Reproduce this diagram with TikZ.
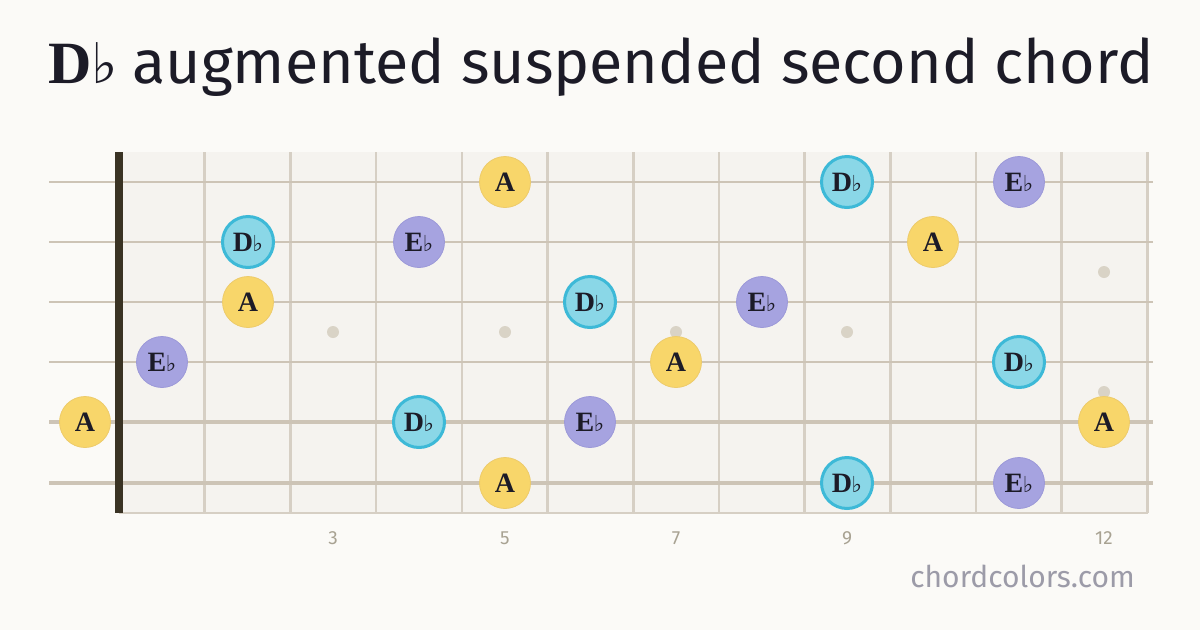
\documentclass[tikz,border=0pt]{standalone}
\usepackage{fontspec}
\usetikzlibrary{positioning}
\newfontfamily\titlefont{Fira Sans}
\newfontfamily\notefont{Liberation Serif}
\newfontfamily\flatfont{DejaVu Sans}
\definecolor{paper}{HTML}{FBFAF7}
\definecolor{boardfill}{HTML}{F5F3EF}
\definecolor{fretline}{HTML}{D6CFC4}
\definecolor{stringline}{HTML}{CDC4B6}
\definecolor{nutcolor}{HTML}{3A3324}
\definecolor{inlaygray}{HTML}{D9D3C6}
\definecolor{numgray}{HTML}{A8A292}
\definecolor{sitegray}{HTML}{9C9BA8}
\definecolor{ink}{HTML}{1C1B27}
\definecolor{yellowA}{HTML}{F8D66A}
\definecolor{yellowAedge}{HTML}{EDCB6A}
\definecolor{blueDb}{HTML}{8AD7E7}
\definecolor{blueDbedge}{HTML}{3DB9D7}
\definecolor{purpleEb}{HTML}{A6A3E0}
\definecolor{purpleEbedge}{HTML}{9C99D8}
\newcommand{\flt}[1]{#1\kern-0.5pt{\flatfont\mdseries\fontsize{22}{22}\selectfont ♭}}

\begin{document}
\begin{tikzpicture}[x=1pt, y=-1pt,
      note/.style={circle, minimum size=51pt, inner sep=0pt, text=ink,
        font=\notefont\fontsize{28}{28}\selectfont\bfseries},
      noteA/.style={note, fill=yellowA, draw=yellowAedge, line width=0.8pt},
      noteDb/.style={note, fill=blueDb, draw=blueDbedge, line width=3pt},
      noteEb/.style={note, fill=purpleEb, draw=purpleEbedge, line width=0.8pt},
      fretnum/.style={font=\titlefont\fontsize{19}{19}\selectfont, text=numgray},
      inlay/.style={fill=inlaygray}]
     \useasboundingbox[fill=paper] (0,0) rectangle (1200,630);
     % title
     \node[anchor=base west, inner sep=0pt, text=ink,
       font=\notefont\fontsize{60}{60}\selectfont\bfseries] (titlechord) at (48,83)
       {D{\flatfont\mdseries\fontsize{56}{56}\selectfont ♭}};
     \node[inner sep=0pt, text=ink, font=\titlefont\fontsize{61}{61}\selectfont,
       right=14pt of titlechord.base east, anchor=base west] (titletext)
       {augmented suspended second chord};
     % fretboard
     \fill[boardfill] (119,152) rectangle (1148,513);
     \draw[fretline, line width=1.2pt] (119,513) -- (1148,513);
     \foreach \k in {1,...,12}
       \draw[fretline, line width=2.6pt] ({119+85.7*\k},152) -- ({119+85.7*\k},513);
     \foreach \y/\w in {182/2, 242/2.3, 302/2.6, 362/2.9, 422/3.3, 483/3.7}
       \draw[stringline, line width=\w pt] (49,\y) -- (1153,\y);
     \fill[nutcolor] (115,152) rectangle (123,513);
     \foreach \x in {333,505,676,847}
       \fill[inlay] (\x,332) circle (6);
     \fill[inlay] (1104,272) circle (6);
     \fill[inlay] (1104,392) circle (6);
     % notes, string 1
     \node[noteA] (s1f5) at (505,182) {A};
     \node[noteDb] (s1f9) at (847,182) {\flt{D}};
     \node[noteEb] (s1f11) at (1019,182) {\flt{E}};
     % string 2
     \node[noteDb] (s2f2) at (248,242) {\flt{D}};
     \node[noteEb] (s2f4) at (419,242) {\flt{E}};
     \node[noteA] (s2f10) at (933,242) {A};
     % string 3
     \node[noteA] (s3f2) at (248,302) {A};
     \node[noteDb] (s3f6) at (590,302) {\flt{D}};
     \node[noteEb] (s3f8) at (762,302) {\flt{E}};
     % string 4
     \node[noteEb] (s4f1) at (162,362) {\flt{E}};
     \node[noteA] (s4f7) at (676,362) {A};
     \node[noteDb] (s4f11) at (1019,362) {\flt{D}};
     % string 5
     \node[noteA] (s5f0) at (85,422) {A};
     \node[noteDb] (s5f4) at (419,422) {\flt{D}};
     \node[noteEb] (s5f6) at (590,422) {\flt{E}};
     \node[noteA] (s5f12) at (1104,422) {A};
     % string 6
     \node[noteA] (s6f5) at (505,483) {A};
     \node[noteDb] (s6f9) at (847,483) {\flt{D}};
     \node[noteEb] (s6f11) at (1019,483) {\flt{E}};
     % fret numbers
     \node[fretnum] (num3) at (333,538) {3};
     \node[fretnum] (num5) at (505,538) {5};
     \node[fretnum] (num7) at (676,538) {7};
     \node[fretnum] (num9) at (847,538) {9};
     \node[fretnum] (num12) at (1104,538) {12};
     \node[anchor=base east, inner sep=0pt, text=sitegray,
       font=\titlefont\fontsize{30}{30}\selectfont] (site) at (1135,587) {chordcolors.com};
    \end{tikzpicture}
\end{document}
